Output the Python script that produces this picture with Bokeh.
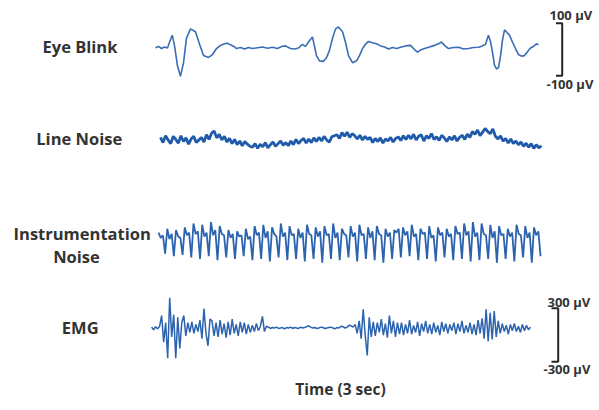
import numpy as np
from bokeh.plotting import figure
from bokeh.models import Range1d, Label
from bokeh.embed import file_html
from bokeh.resources import INLINE

# ---------------- data ----------------
trace_labels = ["Eye Blink", "Line Noise", "Instrumentation", "Noise", "EMG"]
scale_labels = ["100 \u00b5V", "-100 \u00b5V", "300 \u00b5V", "-300 \u00b5V"]
time_label = "Time (3 sec)"

# Eye blink: (time s, amplitude uV)
eye_points = [
    (0.000, 1), (0.024, 6), (0.047, -2), (0.071, 4), (0.094, 0), (0.110, 22),
    (0.131, 49), (0.149, 10), (0.173, -69), (0.196, -108), (0.220, -57),
    (0.243, 37), (0.275, 73), (0.314, 62), (0.346, 14), (0.377, -29),
    (0.416, -36), (0.448, -25), (0.479, -2), (0.510, 10), (0.542, 16),
    (0.565, 18), (0.589, 12), (0.613, 7), (0.636, -2), (0.668, 2),
    (0.699, -4), (0.730, 2), (0.762, -2), (0.801, 1), (0.840, 4),
    (0.880, -1), (0.919, 3), (0.958, -2), (0.990, 6), (1.021, 8),
    (1.060, -2), (1.092, -4), (1.123, 0), (1.154, 14), (1.178, 6),
    (1.201, 23), (1.233, 42), (1.249, 6), (1.264, -29), (1.288, -49),
    (1.319, -51), (1.343, -37), (1.366, -10), (1.390, 37), (1.414, 73),
    (1.437, 80), (1.469, 62), (1.492, 22), (1.516, -29), (1.547, -56),
    (1.579, -49), (1.602, -29), (1.626, -2), (1.649, 14), (1.673, 25),
    (1.704, 20), (1.736, 16), (1.767, 8), (1.799, 4), (1.830, -4),
    (1.861, 2), (1.893, -2), (1.925, 3), (1.963, 8), (2.003, 10),
    (2.034, -6), (2.058, -16), (2.081, -8), (2.113, -2), (2.152, 4),
    (2.191, 10), (2.223, 16), (2.246, 23), (2.270, 10), (2.301, -2),
    (2.340, 2), (2.380, 3), (2.419, -4), (2.458, -2), (2.497, 2),
    (2.537, 3), (2.568, 8), (2.592, 14), (2.615, 49), (2.631, 25),
    (2.647, -18), (2.662, -65), (2.678, -80), (2.694, -75), (2.710, -29),
    (2.725, 29), (2.741, 69), (2.757, 61), (2.780, 49), (2.804, 22),
    (2.827, -2), (2.851, -25), (2.874, -31), (2.898, -29), (2.921, -14),
    (2.945, 0), (2.969, 6), (2.992, 16), (3.008, 12),
]

# Line noise (uV), evenly sampled
line_t0, line_t1 = 0.039, 3.031
line_uv = [
    12, -8, 18, 2, -12, 16, 4, -10, 18, -4, 10, -14, 6, 16, -8, 2,
    12, -6, 22, 4, 28, 36, 10, 24, 2,
    16, -6, 8, -12, 4, -16, -2, -20, -4, -14, -22,
    -26, -12, -30, -14, -24, -8, -28, -16, -6, -22, -12, -2, -18, -8, -20,
    -2, -16, 4, -12, 0, 8, -10, 6, -8, 10, -4, 12, -2, 16, 2, -6, 14, 18,
    22, 8, 30, 16, 32, 12, 26, 18, 6, 20, 2, 16,
    4, 12, -8, 8, -4, 10, -10, 6, -2, 12, -6, 8,
    14, 0, 18, 4, 20, 6, 24, 2, 16, 22, -2, 18, 8, 26, 4, 14, 0, 20,
    10, -4, 14, 2, 18, -2, 12, 20, 4, 24,
    12, 34, 24, 40, 18, 32, 46, 34, 26, 44,
    16, 6, 18, -2, 8, -10, 6, -12, -2, -16,
    -6, -22, -10, -26, -12, -30, -16, -28, -20,
]

# Instrumentation noise (uV), evenly sampled, written cycle by cycle
instr_t0, instr_t1 = 0.024, 3.024
instr_cycles = [
    [30, 10, 20, -50], [45, 5, 25, -60], [40, 15, 10, -55], [50, 20, 30, -65],
    [65, 25, 35, -70], [60, 15, 30, -60], [70, 20, 40, -75], [55, 25, 20, -65],
    [40, 10, 25, -70], [35, 15, 20, -60], [45, 5, 15, -75], [55, 20, 30, -70],
    [60, 10, 35, -80], [50, 25, 15, -65], [65, 15, 30, -75], [55, 20, 25, -70],
    [45, 10, 30, -80], [60, 25, 20, -70], [50, 15, 35, -85], [55, 20, 25, -70],
    [65, 10, 30, -75], [45, 25, 20, -65], [55, 15, 30, -80], [60, 20, 25, -70],
    [50, 10, 35, -75], [55, 25, 20, -85], [45, 15, 30, -70], [40, 30, 45, -65],
    [50, 20, 35, -60], [60, 15, 25, -75], [45, 25, 30, -70], [55, 10, 20, -80],
    [50, 20, 30, -65], [45, 15, 25, -75], [55, 25, 30, -70], [65, 20, 35, -80],
    [70, 15, 30, -75], [65, 25, 20, -70], [60, 10, 35, -85], [55, 20, 25, -70],
    [45, 15, 30, -80], [60, 25, 20, -65], [55, 10, 30, -85], [50, 20, 35, -60],
]

# EMG (uV), evenly sampled
emg_t0, emg_t1 = -0.031, 2.945
emg_uv = [
    10, -20, 15, -10, 20,
    140, -160, 60, -340, 340, -100, 150, -340, 120, -230, 60, 140, -90,
    60, -50, 70, -60, 40, -40,
    90, -120, 220, -60, -200, 100,
    80, -90, 60, -100, 90, -70, 50, -110, 70, -80, 100, -60, 40, -90, 70, -50, 60, -70,
    40, -50, 30, -40, 50, -30, 20, 130, -40, 20,
    10, -5, 5, 0, 10, -5, 0, 5, -10, 5, 0, 10, -5, 5, 0, -5, 10, 0, 5, 15, 25, 10,
    0, 5, -5, 0, 10, 5, -5, 0, 5, 10, 0, -10, 5, 0, 20, 15, 0, 10, 30, 25, 10,
    40, -60, 80, -120, 210, -80, -310, 120, -100,
    70, -90, 60, -50, 100, -80, 50, -110, 140, -60, 80, -100, 60, -70,
    60, -80, 40, -60, 90, -70, 30, -50, 70, -90, 50, -40, 80, -60, 40, -70, 60, -50, 30, -80,
    70, -40, 50, -60, 40, -30, 60, -70, 50, -40, 80, -60, 30, -50, 60, -70, 40, -80, 90, -60,
    110, -120, 210, -150, 170, -130, 190, -100, 80,
    -60, 50, -40, 30, -70, 40, -30, 50, -40, 20, -50, 40, -30, 30, -20, 10,
]

scale_eye_uv = [100, -100]
scale_emg_uv = [300, -300]

# ---------------- layout ----------------
W, H = 599, 410
PX_TOP, PX_BOT = 0, H              # page pixel rows of the frame
PX_LEFT, PX_RIGHT = 0, W
T0_PX, PX_PER_S = 155.0, 127.33    # time axis placement on the page

def y_range_for(center_px, gain):
    return Range1d(start=(center_px - PX_BOT) / gain, end=(center_px - PX_TOP) / gain)

p = figure(width=W, height=H, output_backend="svg", toolbar_location=None,
           x_range=Range1d(PX_LEFT, PX_RIGHT), y_range=Range1d(PX_BOT, PX_TOP),
           x_axis_type=None, y_axis_type=None, min_border=0,
           outline_line_color=None, background_fill_color="white",
           border_fill_color="white")
p.xgrid.visible = False
p.ygrid.visible = False

p.extra_x_ranges = {"t": Range1d((PX_LEFT - T0_PX) / PX_PER_S, (PX_RIGHT - T0_PX) / PX_PER_S)}
g_small = 0.262
g_emg = 0.0888
p.extra_y_ranges = {
    "eye": y_range_for(47.5, g_small),
    "line": y_range_for(140.0, g_small),
    "instr": y_range_for(240.0, g_small),
    "emg": y_range_for(327.5, g_emg),
    "eyebar": y_range_for(49.0, g_small),
    "emgbar": y_range_for(334.5, g_emg),
}

col = "#2C63AE"
eye_t = [a for a, b in eye_points]
eye_v = [b for a, b in eye_points]
p.line(eye_t, eye_v, x_range_name="t", y_range_name="eye", line_color="#3A6DB5", line_width=1.6)

line_t = np.linspace(line_t0, line_t1, len(line_uv))
p.line(line_t, line_uv, x_range_name="t", y_range_name="line", line_color="#1F5BAA", line_width=2.8)

instr_uv = [v for c in instr_cycles for v in c]
instr_t = np.linspace(instr_t0, instr_t1, len(instr_uv))
p.line(instr_t, instr_uv, x_range_name="t", y_range_name="instr", line_color=col, line_width=1.8)

emg_t = np.linspace(emg_t0, emg_t1, len(emg_uv))
p.line(emg_t, emg_uv, x_range_name="t", y_range_name="emg", line_color=col, line_width=1.5)

# scale bars (brackets)
bar_col = "#262626"
xb, xt = 561.7, 555.5
p.line([xt, xb, xb, xt], [scale_eye_uv[0], scale_eye_uv[0], scale_eye_uv[1], scale_eye_uv[1]],
       y_range_name="eyebar", line_color=bar_col, line_width=2)
xb2, xt2 = 557.7, 551.0
p.line([xt2, xb2, xb2, xt2], [scale_emg_uv[0], scale_emg_uv[0], scale_emg_uv[1], scale_emg_uv[1]],
       y_range_name="emgbar", line_color=bar_col, line_width=2)

txt_col = "#333333"
def lab(x, y, text, size, align="center", style="bold"):
    p.add_layout(Label(x=x, y=y, text=text, text_align=align, text_baseline="middle",
                       text_font="Open Sans", text_font_style=style,
                       text_font_size=size, text_color=txt_col))

lab(79.5, 46, trace_labels[0], "16.5px")
lab(78.7, 138, trace_labels[1], "16.5px")
lab(81.7, 233, trace_labels[2], "16.5px")
lab(76.0, 256, trace_labels[3], "16.5px")
lab(79.7, 327, trace_labels[4], "16.5px")

lab(549, 14, scale_labels[0], "13px", align="left")
lab(546, 83, scale_labels[1], "13px", align="left")
lab(547, 301, scale_labels[2], "13px", align="left")
lab(543, 368, scale_labels[3], "13px", align="left")

lab(340, 388, time_label, "15.5px")

open("out.html", "w").write(file_html(p, INLINE))
